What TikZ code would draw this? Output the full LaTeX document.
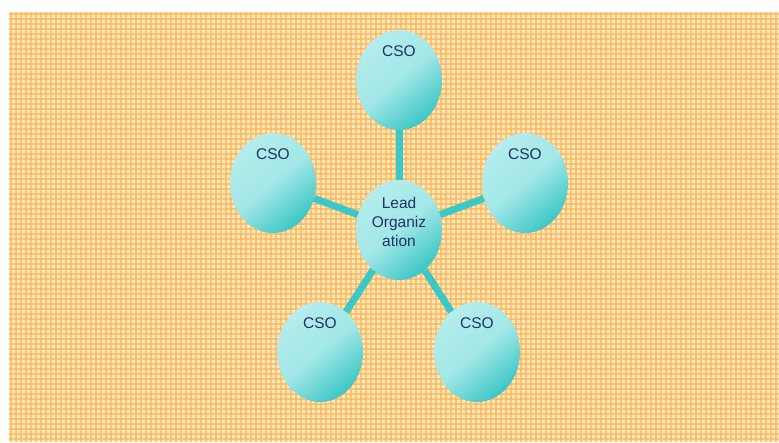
\documentclass[tikz,border=0pt]{standalone}
\usepackage{fontspec}
\setmainfont{Liberation Sans}
\usetikzlibrary{shapes.geometric,positioning}

\definecolor{plaidbg}{RGB}{254,232,196}
\definecolor{plaidline}{RGB}{251,182,82}
\definecolor{linkteal}{RGB}{58,200,200}
\definecolor{ovallight}{RGB}{180,237,237}
\definecolor{ovaldark}{RGB}{62,198,198}
\definecolor{orgtext}{RGB}{30,52,100}

\tikzset{
  oval/.style={ellipse, minimum width=86pt, minimum height=100pt, inner sep=0pt,
    top color=ovallight, bottom color=ovaldark, middle color=ovallight!85!ovaldark, shading angle=40},
  ovaltext/.style={text=orgtext, font=\fontsize{15.5}{19}\selectfont, align=center},
  link/.style={linkteal, line width=7pt}
}

\begin{document}
\begin{tikzpicture}[x=1pt,y=-1pt]
\useasboundingbox (0,0) rectangle (779,442);
% plaid background
\fill [plaidbg] (9,12) rectangle (779,442);
\foreach \x in {11,16,...,779}
  \draw [plaidline, line width=1.5pt, opacity=0.7] (\x,12) -- (\x,442);
\foreach \y in {14,19,...,442}
  \draw [plaidline, line width=1.5pt, opacity=0.7] (9,\y) -- (779,\y);

% ovals
\node [oval, label={[ovaltext,yshift=8pt]center:Lead\\Organiz\\ation}] (lead) at (399,230) {};
\node [oval, label={[ovaltext,anchor=north,yshift=-12pt]north:CSO}] (csotop) at (399,80) {};
\node [oval, label={[ovaltext,anchor=north,yshift=-12pt]north:CSO}] (csoleft) at (273,183) {};
\node [oval, label={[ovaltext,anchor=north,yshift=-12pt]north:CSO}] (csoright) at (525,183) {};
\node [oval, label={[ovaltext,anchor=north,yshift=-12pt]north:CSO}] (csobl) at (320,352) {};
\node [oval, label={[ovaltext,anchor=north,yshift=-12pt]north:CSO}] (csobr) at (477,352) {};

% links
\draw [link] (lead) -- (csotop);
\draw [link] (lead) -- (csoleft);
\draw [link] (lead) -- (csoright);
\draw [link] (lead) -- (csobl);
\draw [link] (lead) -- (csobr);
\end{tikzpicture}
\end{document}
